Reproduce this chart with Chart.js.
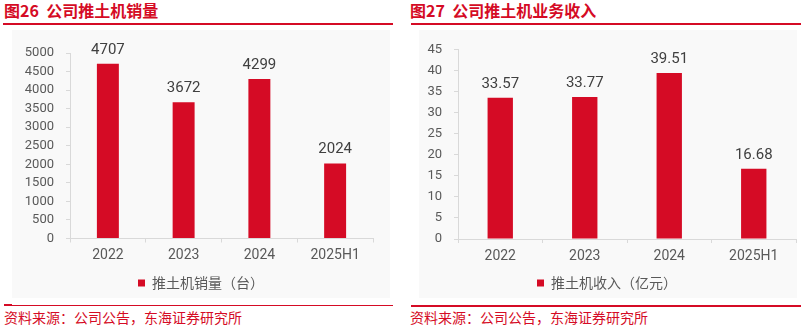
<!DOCTYPE html>
<html><head><meta charset="utf-8">
<script src="https://cdn.jsdelivr.net/npm/chart.js@4.4.1/dist/chart.umd.min.js"></script>
<style>
html,body{margin:0;padding:0;background:#fff;}
body{width:804px;height:327px;position:relative;overflow:hidden;font-family:"Noto Sans CJK SC",sans-serif;}
.title{position:absolute;top:0;font-weight:bold;font-size:16px;line-height:20px;color:#D50B25;white-space:pre;}
.rule{position:absolute;background:#D50B25;}
.bg{position:absolute;background:#f9f9f9;}
.src{position:absolute;top:308px;font-size:14px;line-height:18px;color:#D50B25;white-space:pre;}
canvas{position:absolute;}
</style></head>
<body>
<div class="title" style="left:4px;">图26  公司推土机销量</div>
<div class="rule" style="left:3px;top:23px;width:390px;height:2px;"></div>
<div class="bg" style="left:12px;top:30px;width:378px;height:268px;"></div>
<canvas id="c1" width="378" height="272" style="left:12px;top:30px;"></canvas>
<div class="rule" style="left:4px;top:305px;width:389px;height:1px;"></div>
<div class="rule" style="left:4px;top:304px;width:8px;height:2px;"></div>
<div class="src" style="left:4px;">资料来源：公司公告，东海证券研究所</div>

<div class="title" style="left:410px;">图27  公司推土机业务收入</div>
<div class="rule" style="left:411px;top:23px;width:390px;height:2px;"></div>
<div class="bg" style="left:419px;top:30px;width:378px;height:268px;"></div>
<canvas id="c2" width="380" height="272" style="left:418px;top:30px;"></canvas>
<div class="rule" style="left:411px;top:305px;width:390px;height:2px;"></div>
<div class="src" style="left:410px;">资料来源：公司公告，东海证券研究所</div>

<script>
const categories = ['2022', '2023', '2024', '2025H1'];
const salesValues = [4707, 3672, 4299, 2024];
const revenueValues = [33.57, 33.77, 39.51, 16.68];
const salesLabel = '推土机销量（台）';
const revenueLabel = '推土机收入（亿元）';
const salesAxis = {min: 0, max: 5000, step: 500};
const revenueAxis = {min: 0, max: 45, step: 5};

const RED = '#D50B25';
const TXT = '#595959';
const LINE = '#d9d9d9';
const LATIN = 'Roboto, "Noto Sans CJK SC", sans-serif';

const valueLabels = {
  id: 'valueLabels',
  afterDatasetsDraw(chart, args, opts) {
    const ctx = chart.ctx;
    chart.data.datasets.forEach((ds, i) => {
      const meta = chart.getDatasetMeta(i);
      meta.data.forEach((bar, j) => {
        ctx.save();
        ctx.font = '15px ' + LATIN;
        ctx.fillStyle = '#404040';
        ctx.textAlign = 'center';
        ctx.textBaseline = 'alphabetic';
        ctx.fillText(opts.fmt(ds.data[j]), bar.x, bar.y - 10);
        ctx.restore();
      });
    });
  }
};

function makeChart(id, values, label, axis, yWidth, rightGap, xHeight, pad, barPct, fmt) {
  return new Chart(document.getElementById(id), {
    type: 'bar',
    data: {
      labels: categories,
      datasets: [{
        label: label,
        data: values,
        backgroundColor: RED,
        borderWidth: 0,
        categoryPercentage: 1,
        barPercentage: barPct,
        yAxisID: 'y'
      }]
    },
    plugins: [valueLabels],
    options: {
      responsive: false,
      animation: false,
      devicePixelRatio: 1,
      layout: {padding: pad},
      plugins: {
        tooltip: {enabled: false},
        valueLabels: {fmt: fmt},
        legend: {
          position: 'bottom',
          labels: {
            boxWidth: 7, boxHeight: 7, padding: 6,
            color: TXT,
            font: {size: 14, family: '"Noto Sans CJK SC", sans-serif'}
          }
        }
      },
      scales: {
        x: {
          grid: {drawOnChartArea: false, drawTicks: true, tickLength: 4, color: LINE},
          border: {color: LINE, width: 1},
          ticks: {color: TXT, font: {size: 14, family: LATIN}, padding: 5, maxRotation: 0},
          afterFit(s) { s.height = xHeight; }
        },
        y: {
          min: axis.min, max: axis.max,
          grid: {drawOnChartArea: false, drawTicks: true, tickLength: 4, color: LINE},
          border: {color: LINE, width: 1},
          ticks: {
            stepSize: axis.step, autoSkip: false, color: TXT,
            font: {size: 13, family: LATIN}, padding: 12,
            callback: v => String(v)
          },
          afterFit(s) { s.width = yWidth; }
        },
        yGap: {
          position: 'right',
          display: rightGap > 0,
          min: axis.min, max: axis.max,
          grid: {display: false},
          border: {display: false},
          ticks: {display: false},
          afterFit(s) { s.width = rightGap; }
        }
      }
    }
  });
}

makeChart('c1', salesValues, salesLabel, salesAxis, 58, 17, 31.5,
  {top: 23, right: 0, bottom: 2, left: 0}, 0.29, v => String(v));
makeChart('c2', revenueValues, revenueLabel, revenueAxis, 40, 0, 31,
  {top: 15, right: 2, bottom: 2, left: 0}, 0.3, v => v.toFixed(2));
</script>
</body></html>
